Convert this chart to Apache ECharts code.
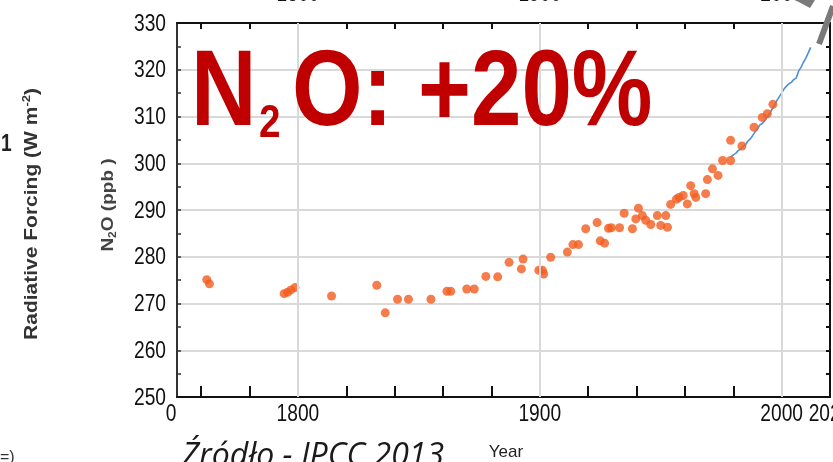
<!DOCTYPE html>
<html>
<head>
<meta charset="utf-8">
<script src="https://cdn.jsdelivr.net/npm/echarts@6/dist/echarts.min.js"></script>
<style>
  html, body { margin: 0; padding: 0; background: #fff; }
  #chart { width: 833px; height: 462px; }
</style>
</head>
<body>
<div id="chart"></div>
<script>
// Ice-core / firn N2O samples: [year, ppb]
const coreYears = [1762.3, 1763.4, 1794.3, 1795.7, 1797.1, 1798.8, 1813.9, 1832.6, 1836.1, 1841.2,
  1845.7, 1855.0, 1861.6, 1863.2, 1869.8, 1872.9, 1877.7, 1882.6, 1887.3, 1892.4,
  1893.1, 1899.6, 1901.1, 1901.6, 1904.5, 1911.4, 1913.7, 1916.0, 1919.0, 1923.7,
  1925.0, 1926.8, 1928.4, 1929.6, 1933.0, 1934.9, 1938.3, 1939.7, 1940.8, 1942.4,
  1943.8, 1945.9, 1948.6, 1950.0, 1952.1, 1952.8, 1954.1, 1956.5, 1957.6, 1959.3,
  1961.0, 1962.4, 1963.8, 1964.5, 1968.6, 1969.3, 1971.4, 1973.7, 1975.6, 1978.9,
  1978.9, 1983.6, 1988.6, 1992.0, 1994.1, 1996.4];
const corePpb = [275.1, 274.2, 272.1, 272.4, 272.9, 273.4, 271.6, 273.9, 268.0, 270.9,
  270.9, 270.9, 272.6, 272.6, 273.1, 273.1, 275.8, 275.7, 278.8, 277.4,
  279.5, 277.1, 277.1, 276.3, 279.9, 281.0, 282.6, 282.6, 286.0, 287.3,
  283.4, 282.9, 286.1, 286.2, 286.2, 289.3, 286.0, 288.1, 290.4, 288.8,
  287.8, 286.9, 288.8, 286.7, 288.8, 286.3, 291.2, 292.3, 292.7, 293.1,
  291.3, 295.2, 293.5, 292.7, 293.5, 296.5, 298.8, 297.4, 300.6, 300.6,
  304.9, 303.7, 307.7, 309.8, 310.6, 312.6];

// Atmospheric measurements (annual)
const atmYears = [1979, 1980, 1981, 1982, 1983, 1984, 1985, 1986, 1987, 1988, 1989, 1990,
  1991, 1992, 1993, 1994, 1995, 1996, 1997, 1998, 1999, 2000, 2001, 2002,
  2003, 2004, 2005, 2006, 2007, 2008, 2009, 2010, 2011, 2012];
const atmPpb = [301.3, 301.8, 302.1, 302.7, 303.0, 303.6, 303.9, 304.7, 305.2, 305.9, 306.7, 307.3,
  308.2, 308.5, 309.1, 309.9, 310.6, 311.5, 312.3, 313.4, 314.2, 315.0, 315.9, 316.5,
  317.0, 317.3, 317.9, 318.2, 319.7, 320.5, 321.6, 322.5, 323.6, 324.8];

// Axis ticks and labels
const yearTicks = [1760, 1780, 1800, 1820, 1840, 1860, 1880, 1900, 1920, 1940, 1960, 1980, 2000, 2020];
const yearLabels = [1750, 1800, 1900, 2000, 2020];
const yearLabelText = ['0', '1800', '1900', '2000', '2020'];
const yearGrid = [1800, 1900, 2000];
const ppbLabels = [250, 260, 270, 280, 290, 300, 310, 320, 330];
const ppbMinorTicks = [255, 260, 265, 270, 275, 280, 285, 290, 295, 300, 305, 310, 315, 320, 325];
// Year labels of the panel above (only their lower edge is in view)
const upperYearLabels = ['1800', '1900', '2000'];

const sans = '"Liberation Sans", Arial, sans-serif';
const red = '#c00000';
const squeeze = 0.8;   // condensed lettering

const chart = echarts.init(document.getElementById('chart'), null, { renderer: 'canvas' });

const baseOption = {
  backgroundColor: '#ffffff',
  animation: false,
  grid: { left: 177, right: 3, top: 23, bottom: 65, containLabel: false, outerBoundsMode: 'none' },
  xAxis: [
    {
      type: 'value', position: 'bottom', min: 1750, max: 2020,
      axisLine: { show: true, onZero: false, lineStyle: { color: '#111', width: 2 } },
      axisTick: { show: true, inside: true, length: 11, customValues: yearTicks,
        lineStyle: { color: '#111', width: 2 } },
      axisLabel: { show: false },
      splitLine: { show: false }
    },
    {
      type: 'value', position: 'top', min: 1750, max: 2020,
      axisLine: { show: true, onZero: false, lineStyle: { color: '#111', width: 2 } },
      axisTick: { show: true, inside: true, length: 6, customValues: yearTicks,
        lineStyle: { color: '#111', width: 2 } },
      axisLabel: { show: false },
      splitLine: { show: false }
    }
  ],
  yAxis: [
    {
      type: 'value', position: 'left', min: 250, max: 330, interval: 10,
      axisLine: { show: true, onZero: false, lineStyle: { color: '#333', width: 2 } },
      axisTick: { show: false },
      axisLabel: { show: false },
      splitLine: { show: true, lineStyle: { color: '#d9d9d9', width: 2 } }
    },
    {
      type: 'value', position: 'right', min: 250, max: 330,
      axisLine: { show: true, onZero: false, lineStyle: { color: '#111', width: 2 } },
      axisTick: { show: true, inside: true, length: 4, customValues: ppbMinorTicks,
        lineStyle: { color: '#111', width: 2 } },
      axisLabel: { show: false },
      splitLine: { show: false }
    },
    {
      type: 'value', position: 'left', min: 250, max: 330,
      axisLine: { show: false },
      axisTick: { show: true, inside: true, length: 4, customValues: ppbMinorTicks,
        lineStyle: { color: '#333', width: 1.5 } },
      axisLabel: { show: false },
      splitLine: { show: false }
    }
  ],
  series: [
    {
      name: 'atmosphere', type: 'line', xAxisIndex: 0, yAxisIndex: 0,
      data: atmYears.map((y, i) => [y, atmPpb[i]]),
      showSymbol: false, symbol: 'none',
      lineStyle: { color: '#4a90d9', width: 1.6 },
      z: 2,
      markLine: {
        silent: true, symbol: 'none', label: { show: false },
        lineStyle: { color: '#d9d9d9', width: 2, type: 'solid' },
        data: yearGrid.map(v => ({ xAxis: v }))
      }
    },
    {
      name: 'ice core', type: 'scatter', xAxisIndex: 0, yAxisIndex: 0,
      data: coreYears.map((y, i) => [y, corePpb[i]]),
      symbol: 'circle', symbolSize: 9,
      itemStyle: { color: '#f25c1f' },
      z: 3
    }
  ]
};

chart.setOption(baseOption);

// Condensed tick labels, placed at the axis positions of their values
function tickText(str, x, y, align) {
  return {
    type: 'text', x: x, y: y, scaleX: squeeze, z: 10,
    style: { text: str, x: 0, y: 0, fill: '#111', font: '24px ' + sans, align: align, verticalAlign: 'middle' }
  };
}
const labelEls = [];
ppbLabels.forEach(v => {
  const py = chart.convertToPixel({ yAxisIndex: 0 }, v);
  labelEls.push(tickText(String(v), 166, py + 1, 'right'));
});
yearLabels.forEach((v, i) => {
  const px = chart.convertToPixel({ xAxisIndex: 0 }, v);
  labelEls.push(tickText(yearLabelText[i], i === 0 ? px - 6 : px, 414, 'center'));
});
upperYearLabels.forEach(s => {
  const px = chart.convertToPixel({ xAxisIndex: 0 }, Number(s));
  labelEls.push(tickText(s, px, -6, 'center'));
});

const textEls = [
  // Headline
  { type: 'text', x: 191, y: 95, scaleX: 0.84, z: 10,
    style: { text: 'N', x: 0, y: 0, fill: red, font: 'bold 108px ' + sans, verticalAlign: 'middle' } },
  { type: 'text', x: 259, y: 124, scaleX: 0.84, z: 10,
    style: { text: '2', x: 0, y: 0, fill: red, font: 'bold 46px ' + sans, verticalAlign: 'middle' } },
  { type: 'text', x: 292, y: 95, scaleX: 0.84, z: 10,
    style: { text: 'O: +20%', x: 0, y: 0, fill: red, font: 'bold 108px ' + sans, verticalAlign: 'middle' } },
  // Side labels
  { type: 'text', x: 1, y: 144, scaleX: squeeze, z: 10,
    style: { text: '1', x: 0, y: 0, fill: '#222', font: 'bold 24px ' + sans, verticalAlign: 'middle' } },
  { type: 'text', x: 32, y: 214, rotation: Math.PI / 2, scaleY: 0.85, z: 10,
    style: {
      text: '{a|Radiative Forcing (W m}{s|-2}{a|)}',
      x: 0, y: 0, align: 'center', verticalAlign: 'middle',
      rich: {
        a: { fill: '#333', fontFamily: sans, fontWeight: 'bold', fontSize: 21, lineHeight: 26 },
        s: { fill: '#333', fontFamily: sans, fontWeight: 'bold', fontSize: 13, verticalAlign: 'top', lineHeight: 14 }
      }
    } },
  { type: 'text', x: 109, y: 205, rotation: Math.PI / 2, scaleY: 0.85, z: 10,
    style: {
      text: '{a|N}{s|2}{a|O (ppb )}',
      x: 0, y: 0, align: 'center', verticalAlign: 'middle',
      rich: {
        a: { fill: '#444', fontFamily: sans, fontWeight: 'bold', fontSize: 19, lineHeight: 22 },
        s: { fill: '#444', fontFamily: sans, fontWeight: 'bold', fontSize: 12, verticalAlign: 'bottom', lineHeight: 12 }
      }
    } },
  // Bottom texts
  { type: 'text', x: 506, y: 452, z: 10,
    style: { text: 'Year', x: 0, y: 0, fill: '#222', font: '17px ' + sans, align: 'center', verticalAlign: 'middle' } },
  { type: 'text', x: 182, y: 457, z: 10,
    style: { text: 'Źródło - IPCC 2013', x: 0, y: 0, fill: '#1a1a1a', font: 'italic 32px "Open Sans", sans-serif', verticalAlign: 'middle' } },
  { type: 'text', x: 0, y: 458, z: 10,
    style: { text: '=)', x: 0, y: 0, fill: '#333', font: '16px ' + sans, verticalAlign: 'middle' } },
  // Grey arrow stroke at the top-right corner
  { type: 'polyline', z: 11,
    shape: { points: [[819, 44], [833, 6]] },
    style: { stroke: '#7a7a7a', lineWidth: 6, fill: null } },
  { type: 'polygon', z: 11,
    shape: { points: [[795, 0], [815, 0], [810, 8]] },
    style: { fill: '#7a7a7a' } }
];

chart.setOption({ graphic: labelEls.concat(textEls) });
</script>
</body>
</html>
